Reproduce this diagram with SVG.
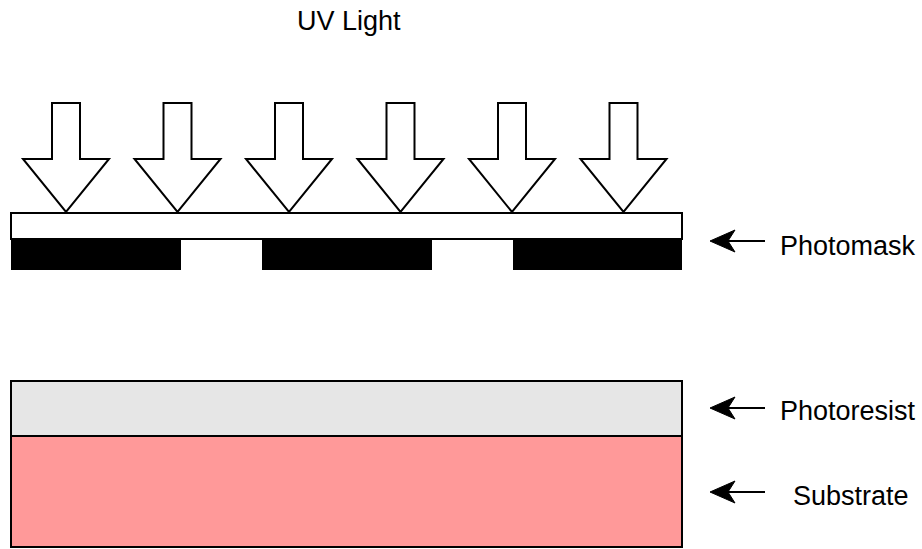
<svg xmlns="http://www.w3.org/2000/svg" width="922" height="549" viewBox="0 0 922 549">
<defs>
<style>
.lbl{font-family:"Liberation Sans",Arial,Helvetica,sans-serif;font-size:27px;fill:#000}
.uv{fill:#fff;stroke:#000;stroke-width:2;stroke-linejoin:miter}
.ln{stroke:#000;stroke-width:2;fill:none}
.hd{fill:#000;stroke:#000;stroke-width:1}
</style>
<path id="uvarrow" class="uv" d="M-14,103 H14 V159 H43 L0,212 L-43,159 H-14 Z"/>
<g id="lblarrow">
<line class="ln" x1="765" y1="0" x2="724" y2="0"/>
<path class="hd" d="M710,0 L735,-11 L728,0 L735,11 Z"/>
</g>
</defs>
<rect width="922" height="549" fill="#fff"/>
<g id="uv-light-label">
<text class="lbl" x="297" y="30">UV Light</text>
</g>
<g id="uv-arrows">
<use href="#uvarrow" x="66"/>
<use href="#uvarrow" x="177.5"/>
<use href="#uvarrow" x="289"/>
<use href="#uvarrow" x="400.5"/>
<use href="#uvarrow" x="512"/>
<use href="#uvarrow" x="623.5"/>
</g>
<g id="photomask">
<rect x="11" y="213" width="671" height="26" fill="#fff" stroke="#000" stroke-width="2"/>
<rect x="11" y="239" width="170" height="31" fill="#000"/>
<rect x="262" y="239" width="170" height="31" fill="#000"/>
<rect x="513" y="239" width="169" height="31" fill="#000"/>
</g>
<g id="photoresist">
<rect x="11" y="381" width="671" height="55" fill="#e6e6e6" stroke="#000" stroke-width="2"/>
</g>
<g id="substrate">
<rect x="11" y="436" width="671" height="111" fill="#ff9999" stroke="#000" stroke-width="2"/>
</g>
<g id="connectors">
<use href="#lblarrow" y="241"/>
<use href="#lblarrow" y="408"/>
<use href="#lblarrow" y="492"/>
</g>
<g id="labels">
<text class="lbl" x="780" y="255">Photomask</text>
<text class="lbl" x="780" y="420">Photoresist</text>
<text class="lbl" x="793" y="505">Substrate</text>
</g>
</svg>
